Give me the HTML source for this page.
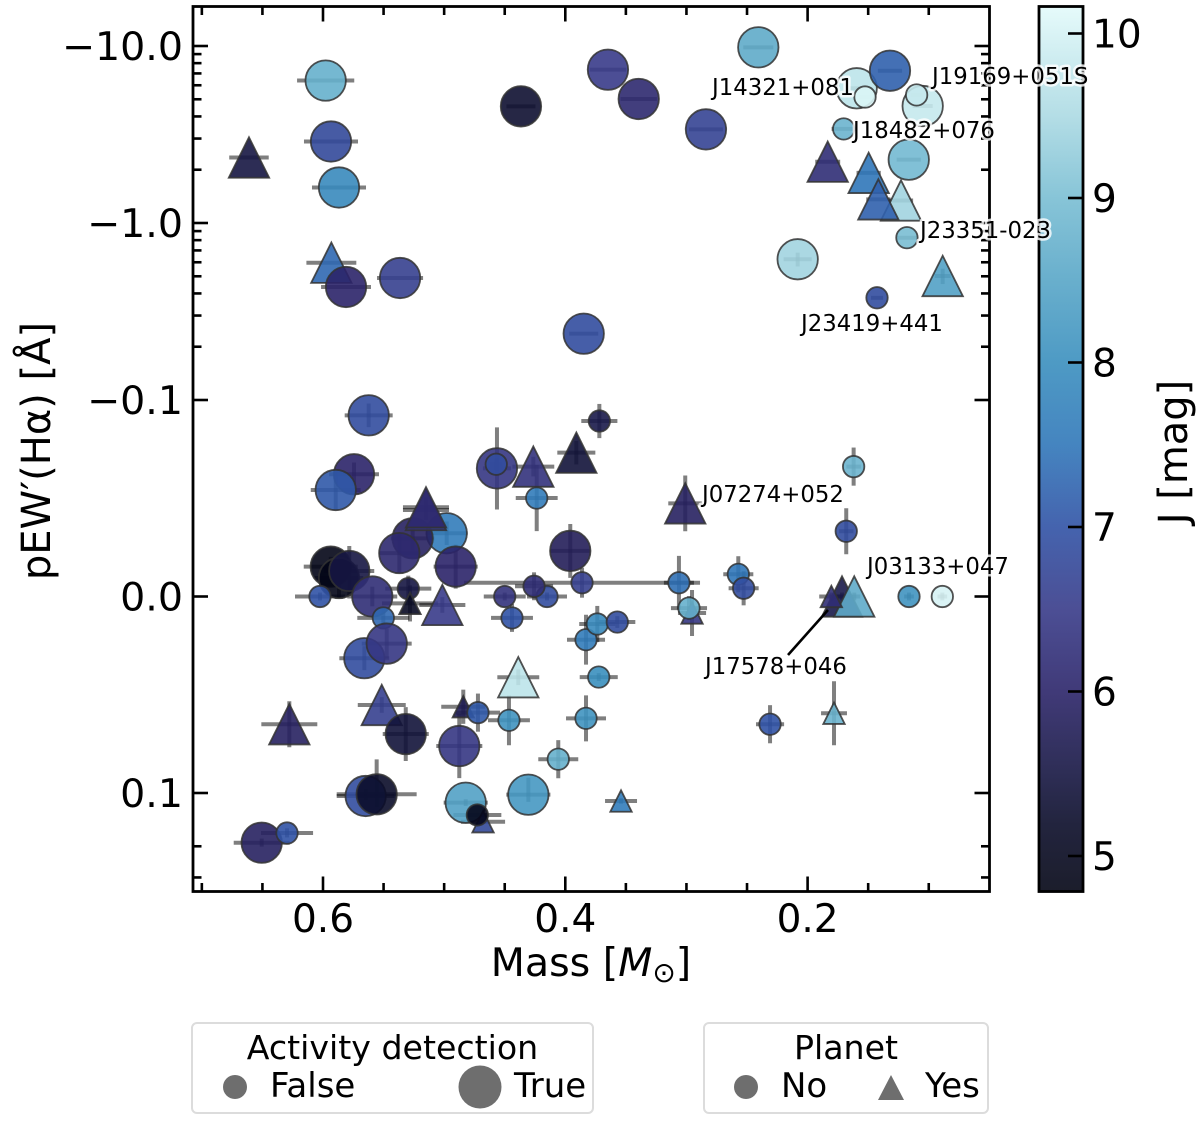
<!DOCTYPE html>
<html>
<head>
<meta charset="utf-8">
<title>pEW'(Halpha) versus mass</title>
<style>
html,body{margin:0;padding:0;background:#fff;width:1200px;height:1121px;overflow:hidden}
svg{display:block;font-family:"DejaVu Sans","Liberation Sans",sans-serif}
.halo{font-size:22.8px;fill:#000;stroke:#fff;stroke-opacity:.8;stroke-width:5px;paint-order:stroke;stroke-linejoin:round}
</style>
</head>
<body>
<svg id="chart" xmlns="http://www.w3.org/2000/svg" width="1200" height="1121" viewBox="0 0 1200 1121">
  <defs>
    <linearGradient id="cbar-gradient" x1="0" y1="1" x2="0" y2="0"></linearGradient>
  </defs>
  <g id="err-layer"></g>
  <g id="mark-layer"></g>
  <rect x="193" y="6.5" width="796.5" height="885" fill="none" stroke="#000" stroke-width="2.8"/>
  <g id="tick-layer"></g>
  <text x="591" y="976" text-anchor="middle" font-size="39.5">Mass [<tspan font-style="italic">M</tspan><tspan font-size="28" dy="6">⊙</tspan><tspan dy="-6">]</tspan></text>
  <text transform="translate(50,451) rotate(-90)" text-anchor="middle" font-size="40">pEW′(Hα) [Å]</text>

  <rect id="cbar" x="1039" y="6.5" width="44" height="885" fill="url(#cbar-gradient)" stroke="#000" stroke-width="2.8"/>
  <g id="cbar-ticks"></g>
  <text transform="translate(1187,452) rotate(-90)" text-anchor="middle" font-size="40">J [mag]</text>

  <g>
    <line x1="788" y1="655" x2="828" y2="610" stroke="#000" stroke-width="2.6"/>
    <text class="halo" x="712" y="95">J14321+081</text>
    <text class="halo" x="932" y="84">J19169+051S</text>
    <text class="halo" x="853" y="138">J18482+076</text>
    <text class="halo" x="920" y="238">J23351-023</text>
    <text class="halo" x="801" y="331">J23419+441</text>
    <text class="halo" x="702" y="502">J07274+052</text>
    <text class="halo" x="867" y="574">J03133+047</text>
    <text class="halo" x="705" y="674">J17578+046</text>
  </g>

  <g>
    <rect x="192" y="1023" width="401" height="90" rx="5" fill="#fff" stroke="#dcdcdc" stroke-width="2"/>
    <text x="392.5" y="1059" text-anchor="middle" font-size="33.2">Activity detection</text>
    <circle cx="235" cy="1087" r="12" fill="#6e6e6e"/>
    <text x="270" y="1097" font-size="34">False</text>
    <circle cx="480" cy="1087" r="21.5" fill="#6e6e6e"/>
    <text x="514" y="1097" font-size="34">True</text>
  </g>
  <g>
    <rect x="704" y="1023" width="284" height="90" rx="5" fill="#fff" stroke="#dcdcdc" stroke-width="2"/>
    <text x="846" y="1059" text-anchor="middle" font-size="33.2">Planet</text>
    <circle cx="746" cy="1087" r="12" fill="#6e6e6e"/>
    <text x="781" y="1097" font-size="34">No</text>
    <polygon points="891,1075 904,1100 878,1100" fill="#6e6e6e"/>
    <text x="925" y="1097" font-size="34">Yes</text>
  </g>
</svg>
<script>
const masses=[.6611,.5978,.5934,.5868,.5931,.581,.5364,.4366,.3848,.3648,.3394,.2839,.2407,.1595,.1526,.132,.105,.11,.1702,.1229,.1496,.1416,.1165,.1834,.118,.2082,.0885,.1427,
.5623,.5744,.5895,.3719,.4564,.457,.4264,.4236,.3909,.4979,.526,.537,.515,.515,.4905,.3959,.5936,.5868,.5783,.5593,.6025,.5296,.5282,.5015,.45,.4151,.4258,.3862,.444,.5502,.5659,.5474,.3829,.3736,.3571,.3062,.2954,.2979,.2572,.2528,.162,.1681,.301,.1716,.1615,.1804,.1163,.0888,
.3724,.3829,.231,.1782,.4058,.4388,.5515,.6278,.5317,.4842,.4721,.4465,.4875,.5648,.5557,.4822,.4679,.4726,.4305,.354,.6506,.6297];
const pews=[-2.344,-6.38,-2.887,-1.587,-.5966,-.435,-.489,-4.56,-.237,-7.35,-5.02,-3.38,-9.83,-5.77,-5.15,-7.25,-4.58,-5.29,-3.4,-1.34,-1.92,-1.36,-2.28,-2.22,-.826,-.624,-.502,-.378,
-.0922,-.0622,-.0542,-.0893,-.0652,-.0673,-.0661,-.0501,-.0732,-.0322,-.0296,-.0221,-.044,-.0454,-.0152,-.0232,-.0152,-.0094,-.013,0,0,-.004,.0035,.0043,0,0,-.0052,-.007,.0109,.0109,.0314,.024,.022,.014,.013,-.007,.0084,.0059,-.0113,-.0042,-.0661,-.0332,-.0474,0,0,0,0,0,
.041,.062,.065,.0594,.0828,.0411,.0552,.065,.07,.0561,.0591,.063,.0761,.104,.1017,.1134,.1453,.1331,.1022,.111,.1909,.1683];
const massErrs=[.0163,.0236,.0223,.0223,.0206,.0206,.019,.012,.012,.015,.015,.014,.0124,.008,.005,.01,.0083,.005,.01,.01,.01,.01,.01,.0103,.008,.0116,.0066,.005,
.0198,.0206,.0206,.0149,.0116,.005,.0173,.0173,.0157,.0173,.018,.0165,.019,.019,.0182,.0165,.0223,.02,.0206,.0206,.0206,.019,.0231,.019,.0173,.0165,.0157,.0974,.0173,.0215,.0206,.0206,.0157,.0149,.0149,.0124,.0116,.0149,.0124,.0124,.006,.006,.014,.005,.005,.01,.004,.004,
.0157,.0165,.0116,.0107,.0165,.0173,.0198,.0231,.019,.0182,.0182,.0173,.019,.0239,.033,.0182,.0182,.0198,.0182,.0132,.0231,.0215];
const pewErrs=[0,0,0,0,0,0,0,0,0,0,0,0,0,0,0,0,0,0,0,0,0,0,0,0,0,.056,.05,0,
.006,.006,.01,.0087,.0209,.003,.005,.0168,.006,.006,.006,.0102,.005,.005,.0112,.0137,.005,.01,.0127,.005,.002,.0066,.0092,.004,.002,.002,.0071,.0076,.0071,.0051,.0061,.0076,.0127,.0092,.003,.0137,.0117,.0061,.0092,.0087,.0097,.0117,.0142,.002,.002,.002,.002,.002,
.002,.0117,.0097,.0163,.0097,.004,.004,.0117,.0137,.0087,.0097,.0127,.0163,.006,.0188,.005,.004,.004,.01,.004,.01,.01];
const jMags=[5.5,8.7,6.8,7.9,7.3,6.0,6.6,5.3,6.9,6.5,6.1,6.7,8.6,9.7,10.05,7.2,9.8,9.8,8.8,9.4,7.5,7.2,8.9,6.2,9.0,9.4,8.4,6.9,
6.9,6.0,7.1,5.6,6.4,6.9,6.3,7.6,5.4,7.6,5.9,6.1,6.3,6.1,6.0,5.8,4.85,4.85,5.5,6.2,7.0,5.5,5.1,6.5,6.3,6.9,6.2,6.6,7.0,7.3,6.9,6.4,7.6,7.9,6.9,7.4,6.4,8.7,7.5,6.9,8.8,6.9,5.9,5.6,8.6,6.2,8.1,10.0,
8.0,8.1,7.0,8.8,8.7,9.7,6.6,5.9,5.4,5.7,7.1,8.1,6.4,6.9,5.2,8.4,6.8,4.9,8.2,7.6,5.9,7.0];
const isActive=[1,1,1,1,1,1,1,1,1,1,1,1,1,1,0,1,1,0,0,1,1,1,1,1,0,1,1,0,
1,1,1,0,1,0,1,0,1,1,1,1,1,1,1,1,1,1,1,1,0,0,0,1,0,0,0,0,0,0,1,1,0,0,0,0,0,0,0,0,0,0,1,1,1,0,0,0,
0,0,0,0,0,1,1,1,1,0,0,0,1,1,1,1,0,0,1,0,1,0];
const hasPlanet=[1,0,0,0,1,0,0,0,0,0,0,0,0,0,0,0,0,0,0,1,1,1,0,1,0,0,1,0,
0,0,0,0,0,0,1,0,1,0,0,0,1,1,0,0,0,0,0,0,0,0,1,1,0,0,0,0,0,0,0,0,0,0,0,0,1,0,0,0,0,0,1,1,1,1,0,0,
0,0,0,1,0,1,1,1,0,1,0,0,0,0,0,0,1,0,0,1,0,0];
const xMajorTicks=[0.6,0.4,0.2];
const xMinorTicks=[0.7,0.65,0.55,0.5,0.45,0.35,0.3,0.25,0.15,0.1];
const yMajorTicks=[-10,-1,-0.1,0,0.1];
const yMajorLabels=["\u221210.0","\u22121.0","\u22120.1","0.0","0.1"];
const yMinorTicks=[-9,-8,-7,-6,-5,-4,-3,-2,-0.9,-0.8,-0.7,-0.6,-0.5,-0.4,-0.3,-0.2,0.2,0.3];
const cbarTicks=[5,6,7,8,9,10];
const cmapJ=[4.79,5.2,5.5,6,6.5,7,7.5,8,8.5,9,9.5,10.16];
const cmapR=[2,10,22,43,56,48,48,58,88,122,172,227];
const cmapG=[4,12,22,36,59,82,119,143,166,190,218,250];
const cmapB=[20,41,66,105,137,165,185,190,199,211,227,250];

const NS='http://www.w3.org/2000/svg';
function xScale(m){return 323+(0.6-m)*1211.5;}
function yScale(p){
  if(p<-0.1)return 400-177*Math.log10(-p/0.1);
  if(p>0.1)return 793+177*Math.log10(p/0.1);
  return 596.5+p*1965;
}
function cScale(j){return 856-(j-5)*164.5;}
function jColor(j){
  let i=0;
  while(i<cmapJ.length-2&&j>cmapJ[i+1])i++;
  const t=Math.max(0,Math.min(1,(j-cmapJ[i])/(cmapJ[i+1]-cmapJ[i])));
  const r=Math.round(cmapR[i]+t*(cmapR[i+1]-cmapR[i]));
  const g=Math.round(cmapG[i]+t*(cmapG[i+1]-cmapG[i]));
  const b=Math.round(cmapB[i]+t*(cmapB[i+1]-cmapB[i]));
  return 'rgb('+r+','+g+','+b+')';
}
function mk(tag,parent,props){
  const el=document.createElementNS(NS,tag);
  for(const k in props)el.setAttribute(k,props[k]);
  parent.appendChild(el);
  return el;
}
const errLayer=document.getElementById('err-layer');
const markLayer=document.getElementById('mark-layer');
const tickLayer=document.getElementById('tick-layer');
const cbarTickLayer=document.getElementById('cbar-ticks');
const gradient=document.getElementById('cbar-gradient');

masses.forEach(function(m,i){
  const cx=xScale(m), cy=yScale(pews[i]);
  const h=mk('line',errLayer,{x1:xScale(m+massErrs[i]),x2:xScale(m-massErrs[i]),y1:cy,y2:cy,stroke:'#000','stroke-opacity':0.5,'stroke-width':4});
  
  
  const v=mk('line',errLayer,{x1:cx,x2:cx,y1:yScale(pews[i]-pewErrs[i]),y2:yScale(pews[i]+pewErrs[i]),stroke:'#000','stroke-opacity':0.5,'stroke-width':4});
  
  
  const r=isActive[i]?20.2:10.7;
  const style={fill:jColor(jMags[i]),'fill-opacity':0.9,stroke:'#333','stroke-opacity':0.85,'stroke-width':1.8};
  let mark;
  if(hasPlanet[i]){
    style.points=cx+','+(cy-r)+' '+(cx+r)+','+(cy+r)+' '+(cx-r)+','+(cy+r);
    mark=mk('polygon',markLayer,style);
    
  }else{
    style.cx=cx;style.cy=cy;style.r=r;
    mark=mk('circle',markLayer,style);
    
  }
  
});

function xTick(m,len,name){
  const x=xScale(m);
  const b=mk('line',tickLayer,{x1:x,x2:x,y1:891.5,y2:891.5-len,stroke:'#000','stroke-width':2.6});
  
  
  const t=mk('line',tickLayer,{x1:x,x2:x,y1:6.5,y2:6.5+len,stroke:'#000','stroke-width':2.6});
  
  
}
function yTick(p,len,name){
  const y=yScale(p);
  const l=mk('line',tickLayer,{x1:193,x2:193+len,y1:y,y2:y,stroke:'#000','stroke-width':2.6});
  
  
  const r=mk('line',tickLayer,{x1:989.5,x2:989.5-len,y1:y,y2:y,stroke:'#000','stroke-width':2.6});
  
  
}
xMajorTicks.forEach(function(m){
  xTick(m,15,'x-major-tick');
  const t=mk('text',tickLayer,{x:xScale(m),y:932,'text-anchor':'middle','font-size':39});
  
  
  t.textContent=m.toFixed(1);
});
xMinorTicks.forEach(function(m){xTick(m,8.5,'x-minor-tick');});
yMajorTicks.forEach(function(p,i){
  yTick(p,15,'y-major-tick');
  const t=mk('text',tickLayer,{x:183,y:yScale(p)+14,'text-anchor':'end','font-size':39.5});
  
  
  t.textContent=yMajorLabels[i];
});
yMinorTicks.forEach(function(p){yTick(p,8.5,'y-minor-tick');});

cmapJ.forEach(function(j,i){
  const s=mk('stop',gradient,{offset:(j-4.79)/(10.16-4.79),'stop-color':jColor(j),'stop-opacity':0.9});
  
  
});
cbarTicks.forEach(function(j){
  const y=cScale(j);
  const l=mk('line',cbarTickLayer,{x1:1068,x2:1083,y1:y,y2:y,stroke:'#000','stroke-width':2.6});
  
  
  const t=mk('text',cbarTickLayer,{x:1092,y:y+14,'font-size':39});
  
  
  t.textContent=String(j);
});
</script>
</body>
</html>
